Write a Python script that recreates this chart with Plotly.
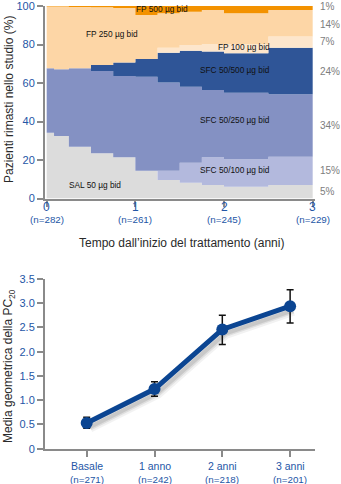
import plotly.graph_objects as go

# ---------------- data: treatment distribution over time ----------------
years = [0, 0.083, 0.25, 0.5, 0.75, 1.0, 1.25, 1.5, 1.75, 2.0, 2.5, 3.0]

# share of patients (%) on each step, from the bottom of the stack upwards
sal_50 = [34.2, 32.5, 26.9, 23.5, 21.4, 14.4, 9.6, 8.2, 7.0, 6.1, 7.0]
sfc_50_100 = [0, 0, 0, 0, 0, 0, 4.8, 10.4, 14.4, 14.3, 14.7]
sfc_50_250 = [33.4, 34.6, 40.7, 42.7, 42.2, 48.9, 45.8, 39.5, 35.0, 34.6, 32.4]
sfc_50_500 = [0, 0, 0, 3.2, 7.1, 9.2, 15.5, 18.7, 19.9, 20.4, 24.2]
fp_100 = [0, 0, 0, 0, 0, 0, 2.6, 2.9, 3.8, 4.7, 5.8]
fp_250 = [32.2, 32.6, 31.9, 29.9, 28.3, 22.8, 17.9, 17.3, 17.8, 16.1, 13.8]
fp_500 = [0.2, 0.3, 0.5, 0.7, 1.0, 4.7, 3.8, 3.0, 2.1, 3.8, 2.1]

layer_names = ["SAL 50 µg bid", "SFC 50/100 µg bid", "SFC 50/250 µg bid",
               "SFC 50/500 µg bid", "FP 100 µg bid", "FP 250 µg bid", "FP 500 µg bid"]
layer_values = [sal_50, sfc_50_100, sfc_50_250, sfc_50_500, fp_100, fp_250, fp_500]
layer_colors = ["#dcdcdc", "#b3b9dd", "#8491c3", "#2f5597", "#fde6cc", "#fdd6a6", "#f39200"]

# final share labels on the right side (top to bottom)
final_pct = ["1%", "14%", "7%", "24%", "34%", "15%", "5%"]
final_pct_y = [99.8, 90.6, 81.3, 66.2, 37.7, 14.3, 3.4]

year_ticks = [0, 1, 2, 3]
year_n = ["(n=282)", "(n=261)", "(n=245)", "(n=229)"]

# label placement for each layer (x in years, y in %)
layer_label_x = [0.55, 2.12, 2.12, 2.12, 2.22, 0.74, 1.3]
layer_label_y = [7.0, 14.7, 41.0, 66.5, 78.5, 85.5, 98.2]

# ---------------- data: geometric mean PC20 ----------------
visits = ["Basale", "1 anno", "2 anni", "3 anni"]
visit_n = ["(n=271)", "(n=242)", "(n=218)", "(n=201)"]
pc20_mean = [0.53, 1.23, 2.46, 2.94]
pc20_low = [0.42, 1.08, 2.15, 2.59]
pc20_high = [0.65, 1.38, 2.75, 3.28]

# ---------------- layout helpers ----------------
W, H = 341, 484
FONT = "Liberation Sans, Arial, Helvetica, sans-serif"
BLUE_TXT = "#2456a6"
AXIS_GREY = "#8a8a8a"


def py(p):
    """pixel row -> paper fraction"""
    return 1 - p / H


fig = go.Figure()

# stacked step areas
cum = [0.0] * len(sal_50)
for name, vals, col in zip(layer_names, layer_values, layer_colors):
    lower = cum[:]
    cum = [c + v for c, v in zip(cum, vals)]
    # close the last step at the end of the time axis
    y_low = lower + [lower[-1]]
    y_up = cum + [cum[-1]]
    fig.add_trace(go.Scatter(x=years, y=y_low, mode="lines", line=dict(width=0, shape="hv"),
                             showlegend=False, hoverinfo="skip", xaxis="x", yaxis="y"))
    fig.add_trace(go.Scatter(x=years, y=y_up, mode="lines", line=dict(width=0, shape="hv"),
                             fill="tonexty", fillcolor=col, name=name, showlegend=False,
                             xaxis="x", yaxis="y"))

# PC20 line with a soft drop shadow
vis_x = list(range(len(visits)))
for w, a in [(11, 0.05), (7, 0.08), (4, 0.10)]:
    fig.add_trace(go.Scatter(x=[v + 0.045 for v in vis_x], y=[m - 0.085 for m in pc20_mean],
                             mode="lines", line=dict(color=f"rgba(0,0,0,{a})", width=w),
                             showlegend=False, hoverinfo="skip", xaxis="x2", yaxis="y2"))
fig.add_trace(go.Scatter(
    x=vis_x, y=pc20_mean, mode="lines+markers",
    line=dict(color="#0b4592", width=5),
    marker=dict(color="#0b4592", size=12),
    error_y=dict(type="data", symmetric=False,
                 array=[h - m for h, m in zip(pc20_high, pc20_mean)],
                 arrayminus=[m - l for m, l in zip(pc20_mean, pc20_low)],
                 color="#111111", thickness=1.5, width=3.5),
    showlegend=False, xaxis="x2", yaxis="y2"))

xdom = [45 / W, 315 / W]
axis_common = dict(showline=True, linecolor=AXIS_GREY, linewidth=2, ticks="outside",
                   tickcolor=AXIS_GREY, tickwidth=2, ticklen=6, showgrid=False, zeroline=False,
                   automargin=False, ticklabeloverflow="allow",
                   tickfont=dict(family=FONT, size=11, color=BLUE_TXT))

fig.update_layout(
    width=W, height=H, margin=dict(l=0, r=0, t=0, b=0, pad=0, autoexpand=False),
    paper_bgcolor="white", plot_bgcolor="white",
    font=dict(family=FONT),
    xaxis=dict(domain=xdom, range=[-0.019, 3.026], tickvals=year_ticks,
               showticklabels=False, anchor="y", **axis_common),
    yaxis=dict(domain=[py(198.5), py(6)], range=[0, 100], tickvals=[0, 20, 40, 60, 80, 100],
               anchor="x", **axis_common),
    xaxis2=dict(domain=xdom, range=[-0.615, 3.367], tickvals=vis_x,
                showticklabels=False, anchor="y2", **axis_common),
    yaxis2=dict(domain=[py(448.7), py(279)], range=[0, 3.5],
                tickvals=[0, 0.5, 1, 1.5, 2, 2.5, 3, 3.5],
                ticktext=["0", "0.5", "1.0", "1.5", "2.0", "2.5", "3.0", "3.5"],
                anchor="x2", **axis_common),
)

ann = []


def label(**kw):
    kw.setdefault("xanchor", "center")
    kw.setdefault("yanchor", "middle")
    kw.setdefault("showarrow", False)
    ann.append(kw)


# layer names inside the areas
for name, lx, ly in zip(layer_names, layer_label_x, layer_label_y):
    label(x=lx, y=ly, xref="x", yref="y", text=name,
          font=dict(family=FONT, size=8.3, color="#111111"))
# final shares at the right
for t, yy in zip(final_pct, final_pct_y):
    label(x=318 / W, y=yy, xref="paper", yref="y", text=t, xanchor="left",
          font=dict(family=FONT, size=10, color="#7d7d7d"))
# year tick labels with patient counts
for yt, n in zip(year_ticks, year_n):
    label(x=yt, y=py(206.5), xref="x", yref="paper", text=str(yt),
          font=dict(family=FONT, size=12, color=BLUE_TXT))
    label(x=yt, y=py(219.5), xref="x", yref="paper", text=n,
          font=dict(family=FONT, size=9.8, color=BLUE_TXT))
# visit tick labels with patient counts
for vx, v, n in zip(vis_x, visits, visit_n):
    label(x=vx, y=py(466), xref="x2", yref="paper", text=v,
          font=dict(family=FONT, size=10.5, color=BLUE_TXT))
    label(x=vx, y=py(479), xref="x2", yref="paper", text=n,
          font=dict(family=FONT, size=9.8, color=BLUE_TXT))
# axis titles
label(x=181 / W, y=py(243), xref="paper", yref="paper",
      text="Tempo dall’inizio del trattamento (anni)",
      font=dict(family=FONT, size=12, color="#2a2a2a"))
label(x=9 / W, y=py(100), xref="paper", yref="paper", textangle=-90,
      text="Pazienti rimasti nello studio (%)",
      font=dict(family=FONT, size=12, color="#2a2a2a"))
label(x=9 / W, y=py(366), xref="paper", yref="paper", textangle=-90,
      text="Media geometrica della PC<sub>20</sub>",
      font=dict(family=FONT, size=12, color="#2a2a2a"))
fig.update_layout(annotations=ann)

fig.write_html("out.html")
